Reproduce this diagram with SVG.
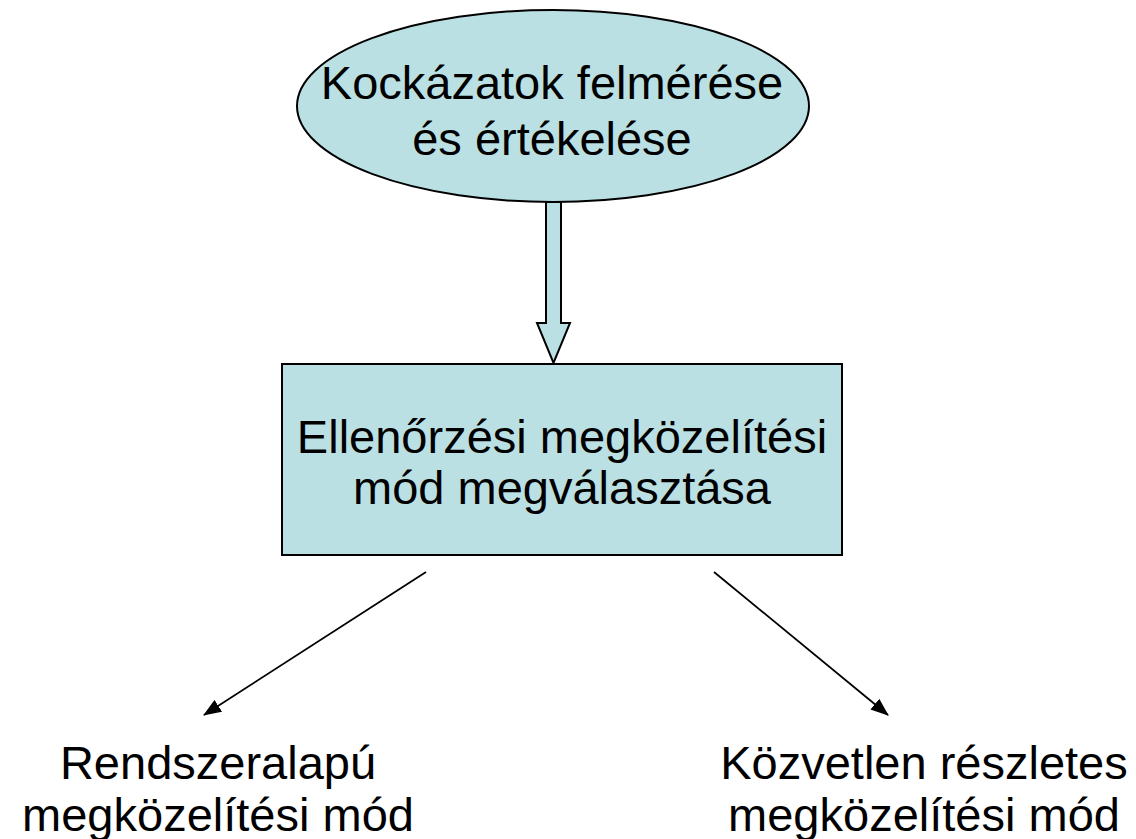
<svg xmlns="http://www.w3.org/2000/svg" width="1136" height="839" viewBox="0 0 1136 839">
  <style>
    .shape { fill: #bbe0e3; stroke: #000; stroke-width: 2; }
    .label { font-family: "Liberation Sans", Arial, sans-serif; font-size: 47px; fill: #000; text-anchor: middle; }
    .conn { stroke: #000; stroke-width: 1.8; fill: none; }
  </style>
  <defs>
    <marker id="ah" viewBox="0 0 18 14" refX="17" refY="7" markerWidth="18" markerHeight="14" orient="auto" markerUnits="userSpaceOnUse">
      <path d="M0,0 L18,7 L0,14 Z" fill="#000"/>
    </marker>
  </defs>
  <rect width="1136" height="839" fill="#fff"/>

  <g id="connectors">
    <path id="block-arrow" class="shape" d="M546,202 L561,202 L561,323 L570,323 L553.5,363 L537,323 L546,323 Z"/>
    <line class="conn" x1="426" y1="572" x2="204" y2="715" marker-end="url(#ah)"/>
    <line class="conn" x1="714" y1="572" x2="888" y2="715" marker-end="url(#ah)"/>
  </g>

  <g id="node-risk">
    <ellipse class="shape" cx="553" cy="106" rx="256" ry="96"/>
    <text class="label" x="552" y="99">Kockázatok felmérése</text>
    <text class="label" x="552" y="155">és értékelése</text>
  </g>

  <g id="node-choice">
    <rect class="shape" x="282" y="364" width="560" height="191"/>
    <text class="label" x="562" y="453">Ellenőrzési megközelítési</text>
    <text class="label" x="562" y="504">mód megválasztása</text>
  </g>

  <g id="node-system">
    <text class="label" x="218" y="779">Rendszeralapú</text>
    <text class="label" x="218" y="831">megközelítési mód</text>
  </g>

  <g id="node-direct">
    <text class="label" x="924" y="779">Közvetlen részletes</text>
    <text class="label" x="924" y="831">megközelítési mód</text>
  </g>
</svg>
